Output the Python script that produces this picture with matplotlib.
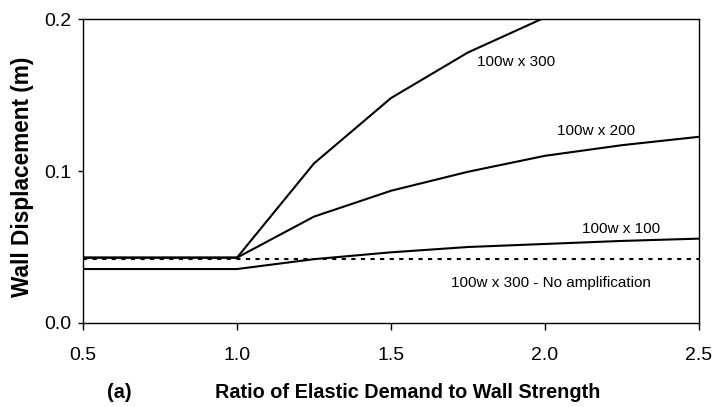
import matplotlib
matplotlib.use("Agg")
import matplotlib.pyplot as plt

plt.rcParams['font.family'] = ['Liberation Sans', 'DejaVu Sans']

# Ratio of elastic demand to wall strength
ratio = [0.5, 0.75, 1.0, 1.25, 1.5, 1.75, 2.0, 2.25, 2.5]

# Wall displacement (m) for each load case
disp_300 = [0.043, 0.043, 0.043, 0.105, 0.148, 0.178, 0.201]
disp_200 = [0.043, 0.043, 0.043, 0.070, 0.087, 0.0995, 0.110, 0.117, 0.1225]
disp_100 = [0.0355, 0.0355, 0.0355, 0.042, 0.0465, 0.050, 0.052, 0.054, 0.0555]
disp_noamp = [0.042] * len(ratio)

series_labels = ["100w x 300", "100w x 200", "100w x 100", "100w x 300 - No amplification"]
xticks = [0.5, 1.0, 1.5, 2.0, 2.5]
yticks = [0.0, 0.1, 0.2]

fig = plt.figure(figsize=(7.17, 4.07), dpi=100)
ax = fig.add_axes([0.1158, 0.2064, 0.8591, 0.7469])

lw = 1.5
ax.plot(ratio[:len(disp_300)], disp_300, color='black', lw=lw)
ax.plot(ratio, disp_200, color='black', lw=lw)
ax.plot(ratio, disp_100, color='black', lw=lw)
ax.plot(ratio, disp_noamp, color='black', lw=lw, linestyle=(0, (2, 2.6)))

ax.set_xlim(0.5, 2.5)
ax.set_ylim(0.0, 0.2)
ax.set_xticks(xticks)
ax.set_yticks(yticks)
ax.set_xticklabels([f"{v:.1f}" for v in xticks], fontsize=14)
ax.set_yticklabels([f"{v:.1f}" for v in yticks], fontsize=14)
ax.tick_params(axis='x', length=5, width=1, pad=12)
ax.tick_params(axis='y', length=3.6, width=1, pad=5)
for s in ax.spines.values():
    s.set_linewidth(1.0)

ax.text(1.78, 0.172, series_labels[0], fontsize=11, va='center', ha='left')
ax.text(2.04, 0.126, series_labels[1], fontsize=11, va='center', ha='left')
ax.text(2.12, 0.062, series_labels[2], fontsize=11, va='center', ha='left')
ax.text(1.695, 0.026, series_labels[3], fontsize=11, va='center', ha='left')

fig.text(408 / 717, 1 - 393 / 407, "Ratio of Elastic Demand to Wall Strength",
         fontsize=14.3, fontweight='bold', ha='center', va='center')
fig.text(119 / 717, 1 - 393 / 407, "(a)", fontsize=14.3, fontweight='bold',
         ha='center', va='center')
fig.text(23 / 717, 1 - 177 / 407, "Wall Displacement (m)", fontsize=16.3,
         fontweight='bold', ha='center', va='center', rotation=90)

fig.savefig("out.png", dpi=100)
